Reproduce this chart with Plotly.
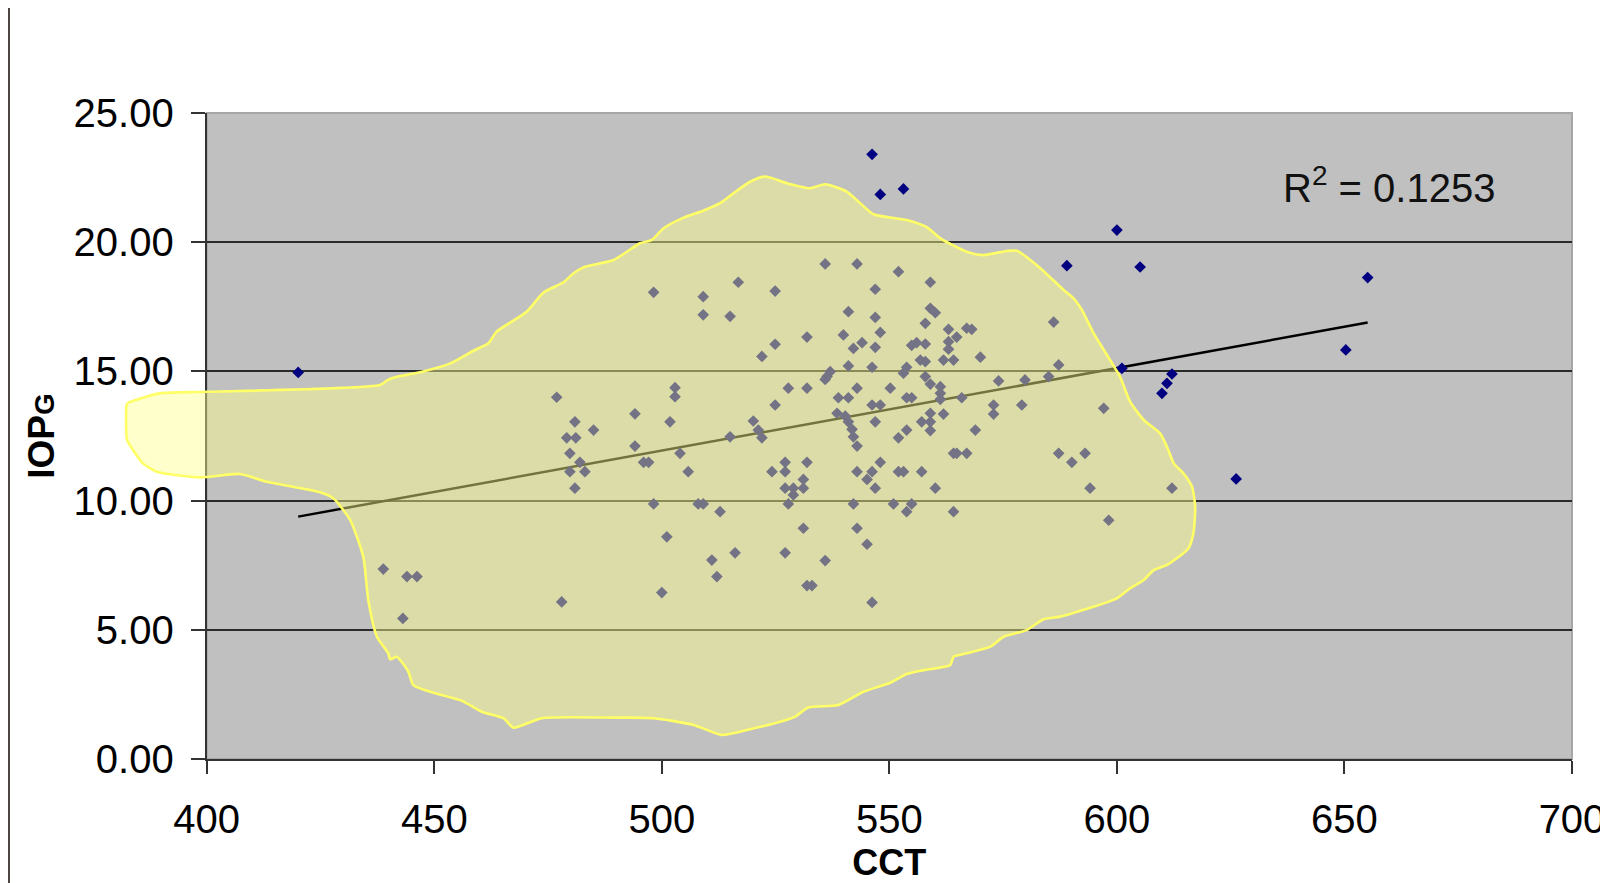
import plotly.graph_objects as go

# ---------------- data ----------------
cct = [
    # left / lower-left part
    420.1, 438.8, 444.0, 446.2, 443.1, 478.0, 476.9,
    498.2, 509.1, 509.1, 515.0, 516.8, 524.9, 524.9, 522.0, 527.8, 524.9,
    502.9, 502.9, 494.1, 501.8, 480.9, 485.0, 479.1, 481.1, 479.8, 482.0,
    479.8, 483.1, 480.9, 494.1, 496.0, 497.1, 504.0, 505.8, 515.0, 520.1,
    521.2, 522.0, 527.1, 524.2, 527.1, 527.1, 528.9,
    498.2, 508.0, 509.1, 512.8, 527.8, 528.9, 501.1, 516.1, 511.0, 512.1,
    527.1, 500.0,
    # centre
    535.9, 542.9, 552.0, 559.0, 546.9, 541.0, 546.9, 559.0, 560.1, 557.9,
    548.0, 539.9, 531.9, 544.0, 542.1, 546.9, 554.9, 556.0, 557.9, 563.0,
    564.8, 567.0, 568.1, 563.0, 563.0, 570.0, 561.9, 564.1, 556.8, 557.9,
    541.0, 546.2, 553.8, 553.1, 537.0, 536.3, 535.9, 557.9, 559.0, 561.2,
    561.2, 574.0, 579.8, 585.0, 587.2, 586.1, 531.9, 542.9, 550.2, 538.8,
    541.0, 553.8, 554.9, 561.2, 565.9, 546.2, 548.0, 572.9, 579.1, 572.9,
    538.5, 540.3, 541.0, 546.9, 559.0, 561.9, 557.1, 559.0, 541.8, 553.8,
    559.0, 568.9, 542.1, 552.0, 542.9, 597.1, 564.1, 564.8, 567.0, 587.2,
    590.1, 593.0, 531.9, 548.0, 542.9, 546.2, 552.0, 553.1, 557.1, 531.1,
    545.1, 531.1, 546.9, 560.1, 594.1, 612.1,
    542.1, 550.9, 554.9, 553.8, 564.1, 598.2, 531.1, 542.9, 545.1, 535.9,
    531.9, 533.0, 546.2,
    # upper / right part
    546.2, 548.0, 553.1, 600.0, 589.0, 605.1, 601.1, 612.1, 611.0, 609.9,
    655.1, 650.3, 626.2,
]
iop = [
    14.96, 7.35, 7.06, 7.06, 5.44, 6.08, 14.00,
    18.06, 17.89, 17.19, 17.13, 18.45, 18.11, 16.05, 15.58, 14.35, 13.70,
    14.37, 14.02, 13.36, 13.05, 13.05, 12.73, 12.43, 12.43, 11.83, 11.48,
    11.12, 11.12, 10.48, 12.11, 11.48, 11.48, 11.83, 11.12, 12.47, 13.08,
    12.73, 12.43, 11.48, 11.12, 11.12, 10.48, 10.48,
    9.87, 9.87, 9.87, 9.57, 9.87, 10.22, 8.60, 7.98, 7.70, 7.06,
    7.98, 6.44,
    19.16, 19.16, 18.86, 18.45, 18.18, 17.31, 17.09, 17.44, 17.27, 16.86,
    16.51, 16.41, 16.33, 16.11, 15.89, 15.93, 16.01, 16.11, 16.06, 16.63,
    16.33, 16.67, 16.63, 16.15, 15.86, 15.55, 15.44, 15.44, 15.44, 15.38,
    15.21, 15.16, 15.16, 14.93, 14.99, 14.80, 14.69, 14.80, 14.51, 14.41,
    14.15, 14.63, 14.67, 14.80, 15.25, 16.91, 14.35, 14.35, 14.35, 13.98,
    13.98, 13.98, 13.98, 13.92, 13.98, 13.70, 13.70, 13.70, 13.70, 13.35,
    13.38, 13.27, 13.05, 13.05, 13.38, 13.35, 13.05, 13.05, 12.76, 12.73,
    12.71, 12.73, 12.47, 12.43, 12.11, 13.57, 11.83, 11.83, 11.83, 11.83,
    11.48, 11.83, 11.48, 11.48, 11.12, 11.12, 11.12, 11.12, 11.12, 10.82,
    10.82, 10.48, 10.48, 10.48, 10.48, 10.48,
    9.87, 9.87, 9.87, 9.57, 9.57, 9.24, 8.93, 8.93, 8.31, 7.68,
    6.71, 6.71, 6.06,
    23.40, 21.85, 22.06, 20.47, 19.09, 19.04, 15.12, 14.90, 14.54, 14.15,
    18.63, 15.83, 10.84,
]

# linear trend line (end points)
trend_x = [420.1, 655.1]
trend_y = [9.38, 16.89]
r2_text = "R<sup>2</sup> = 0.1253"

# hand-drawn highlight region (outline in data units)
blob_x = [
    382.7, 389.7, 400.0, 438.1, 439.8, 442.5, 446.9, 453.5, 458.6, 461.9,
    463.7, 470.3, 474.0, 478.4, 480.6, 483.1, 489.4, 495.2, 497.8, 500.4,
    504.8, 509.1, 512.8, 515.7, 519.4, 522.7, 527.5, 532.6, 535.9, 540.7,
    543.6, 546.5, 553.8, 558.2, 561.2, 567.0, 570.7, 575.8, 578.0, 582.8,
    588.3, 590.5, 592.3, 594.9, 598.5, 600.7, 602.9, 605.9, 609.5, 611.3,
    612.5, 614.6, 616.5, 617.2, 616.8, 615.7, 611.0, 608.1, 605.9, 602.9,
    600.0, 587.5, 583.9, 580.2, 575.1, 572.2, 567.0, 564.1, 563.4, 557.5,
    553.8, 550.2, 544.3, 538.8, 532.2, 529.3, 526.0, 519.4, 513.2, 507.0,
    498.2, 489.4, 473.6, 467.4, 465.2, 460.4, 456.0, 449.1, 445.4, 444.3,
    442.5, 441.8, 440.3, 439.9, 437.4, 435.5, 434.4, 431.5, 427.8, 424.9,
    413.2, 407.3, 398.5, 389.0, 386.0, 383.8, 382.5, 382.4, 382.7,
]
blob_y = [
    13.78, 14.15, 14.21, 14.47, 14.67, 14.82, 14.97, 15.31, 15.80, 16.09,
    16.54, 17.31, 18.05, 18.45, 18.80, 19.05, 19.31, 19.96, 20.09, 20.54,
    20.95, 21.22, 21.51, 21.89, 22.34, 22.54, 22.28, 22.09, 22.24, 21.95,
    21.51, 21.08, 20.86, 20.58, 20.15, 19.63, 19.50, 19.66, 19.67, 19.05,
    18.15, 17.83, 17.38, 16.47, 15.44, 14.79, 13.83, 13.12, 12.60, 11.96,
    11.44, 11.06, 10.54, 9.76, 8.73, 8.15, 7.51, 7.31, 6.93, 6.61,
    6.22, 5.51, 5.41, 4.99, 4.73, 4.35, 4.09, 3.96, 3.64, 3.44,
    3.29, 2.95, 2.60, 2.09, 1.99, 1.64, 1.44, 1.15, 0.93, 1.32,
    1.58, 1.60, 1.58, 1.21, 1.58, 1.83, 2.26, 2.60, 2.86, 3.38,
    3.83, 3.96, 3.86, 4.09, 4.73, 6.15, 7.83, 9.25, 10.09, 10.32,
    10.73, 11.03, 10.90, 11.12, 11.44, 11.96, 12.35, 13.70, 13.78,
]

x_ticks = [400, 450, 500, 550, 600, 650, 700]
y_ticks = [0, 5, 10, 15, 20, 25]
x_range = [400, 700]
y_range = [0, 25]

# ---------------- layout geometry ----------------
# the page body adds an 8px offset; the figure is sized to fit inside it
OFF = 8
W, H = 1608 - OFF, 883 - OFF
PLOT_L, PLOT_R, PLOT_T, PLOT_B = 206.7 - OFF, 1571.7 - OFF, 113 - OFF, 759 - OFF
ML = 92
MR = W - PLOT_R
MT = PLOT_T
MB = H - PLOT_B
plot_w = W - ML - MR
plot_h = H - MT - MB
x_dom0 = (PLOT_L - ML) / plot_w          # main axis starts at the y axis line
# wider, invisible axis with the same scale so the highlight can spill left
x2_left = x_range[1] - (x_range[1] - x_range[0]) / (1 - x_dom0)

FONT = "Liberation Sans, Arial, Helvetica, sans-serif"

fig = go.Figure()

fig.add_trace(go.Scatter(
    x=trend_x, y=trend_y, mode="lines",
    line=dict(color="#000000", width=2.5),
    xaxis="x", yaxis="y", hoverinfo="skip", showlegend=False,
))
fig.add_trace(go.Scatter(
    x=cct, y=iop, mode="markers",
    marker=dict(symbol="diamond", size=9, color="#000080", line=dict(width=0)),
    xaxis="x", yaxis="y", showlegend=False,
))
fig.add_trace(go.Scatter(
    x=blob_x, y=blob_y, mode="lines", fill="toself",
    fillcolor="rgba(255,255,140,0.45)",
    line=dict(color="#ffff66", width=2.6, shape="spline", smoothing=0.6),
    xaxis="x2", yaxis="y2", hoverinfo="skip", showlegend=False,
))

tick_font = dict(family=FONT, size=40, color="#000000")

fig.update_layout(
    width=W, height=H,
    margin=dict(l=ML, r=MR, t=MT, b=MB, autoexpand=False),
    paper_bgcolor="#ffffff",
    plot_bgcolor="rgba(0,0,0,0)",
    font=dict(family=FONT, color="#000000"),
    xaxis=dict(
        domain=[x_dom0, 1], range=x_range, anchor="y", automargin=False,
        tickvals=x_ticks, ticktext=[str(v) for v in x_ticks],
        ticks="outside", ticklen=13, tickwidth=2, tickcolor="#333333",
        showline=True, linecolor="#333333", linewidth=2,
        showgrid=False, zeroline=False, tickfont=tick_font,
        ticklabelstandoff=11,
        title=dict(text="<b>CCT</b>", font=dict(family=FONT, size=36, color="#000000"),
                   standoff=17),
    ),
    yaxis=dict(
        domain=[0, 1], range=y_range, anchor="x", automargin=False,
        tickvals=y_ticks, tickformat=".2f",
        ticks="outside", ticklen=14, tickwidth=2, tickcolor="#333333",
        showline=True, linecolor="#333333", linewidth=2,
        showgrid=True, gridcolor="#2a2a2a", gridwidth=2,
        zeroline=False, tickfont=tick_font,
        ticklabelstandoff=9,
        title=dict(text="<b>IOP<span style='font-size:28px'>G</span></b>",
                   font=dict(family=FONT, size=37, color="#000000"), standoff=8),
    ),
    xaxis2=dict(domain=[0, 1], range=[x2_left, x_range[1]], anchor="y2",
                visible=False, showgrid=False, zeroline=False, automargin=False),
    yaxis2=dict(domain=[0, 1], range=y_range, anchor="x2",
                visible=False, showgrid=False, zeroline=False, automargin=False),
    shapes=[
        # plot area background + light border
        dict(type="rect", xref="x domain", yref="y domain", x0=0, x1=1, y0=0, y1=1,
             fillcolor="#c0c0c0", line=dict(color="#a6a6a6", width=2), layer="below"),
        # dark screenshot frame (left edge)
        dict(type="rect", xref="paper", yref="paper",
             x0=-ML / plot_w, x1=(10 - OFF - ML) / plot_w,
             y0=-MB / plot_h, y1=(plot_h + MT) / plot_h,
             fillcolor="#4d4343", line=dict(width=0), layer="above"),
    ],
    annotations=[
        dict(text=r2_text, x=636.0, y=22.2, xref="x", yref="y",
             xanchor="left", yanchor="middle", showarrow=False,
             font=dict(family=FONT, size=40, color="#111111")),
    ],
)

fig.write_html("out.html")
